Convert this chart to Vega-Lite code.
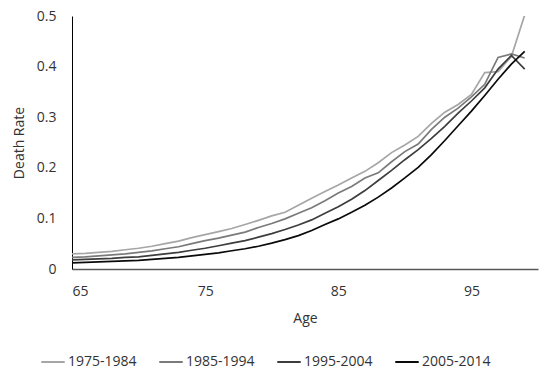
{
  "$schema": "https://vega.github.io/schema/vega-lite/v6.json",
  "width": 466,
  "height": 253,
  "autosize": {"type": "none"},
  "padding": {"left": 72, "top": 16, "right": 12, "bottom": 104},
  "background": "white",
  "config": {
    "view": {"stroke": null},
    "font": "Open Sans"
  },
  "data": {
    "values": [
      {"Age":65,"Period":"1975-1984","Rate":0.030},{"Age":66,"Period":"1975-1984","Rate":0.031},{"Age":67,"Period":"1975-1984","Rate":0.033},{"Age":68,"Period":"1975-1984","Rate":0.035},{"Age":69,"Period":"1975-1984","Rate":0.038},{"Age":70,"Period":"1975-1984","Rate":0.041},{"Age":71,"Period":"1975-1984","Rate":0.045},{"Age":72,"Period":"1975-1984","Rate":0.050},{"Age":73,"Period":"1975-1984","Rate":0.055},{"Age":74,"Period":"1975-1984","Rate":0.062},{"Age":75,"Period":"1975-1984","Rate":0.068},{"Age":76,"Period":"1975-1984","Rate":0.074},{"Age":77,"Period":"1975-1984","Rate":0.080},{"Age":78,"Period":"1975-1984","Rate":0.088},{"Age":79,"Period":"1975-1984","Rate":0.096},{"Age":80,"Period":"1975-1984","Rate":0.105},{"Age":81,"Period":"1975-1984","Rate":0.112},{"Age":82,"Period":"1975-1984","Rate":0.126},{"Age":83,"Period":"1975-1984","Rate":0.140},{"Age":84,"Period":"1975-1984","Rate":0.153},{"Age":85,"Period":"1975-1984","Rate":0.166},{"Age":86,"Period":"1975-1984","Rate":0.180},{"Age":87,"Period":"1975-1984","Rate":0.193},{"Age":88,"Period":"1975-1984","Rate":0.210},{"Age":89,"Period":"1975-1984","Rate":0.230},{"Age":90,"Period":"1975-1984","Rate":0.245},{"Age":91,"Period":"1975-1984","Rate":0.262},{"Age":92,"Period":"1975-1984","Rate":0.288},{"Age":93,"Period":"1975-1984","Rate":0.310},{"Age":94,"Period":"1975-1984","Rate":0.325},{"Age":95,"Period":"1975-1984","Rate":0.345},{"Age":96,"Period":"1975-1984","Rate":0.388},{"Age":97,"Period":"1975-1984","Rate":0.390},{"Age":98,"Period":"1975-1984","Rate":0.420},{"Age":99,"Period":"1975-1984","Rate":0.502},
      {"Age":65,"Period":"1985-1994","Rate":0.023},{"Age":66,"Period":"1985-1994","Rate":0.024},{"Age":67,"Period":"1985-1994","Rate":0.026},{"Age":68,"Period":"1985-1994","Rate":0.028},{"Age":69,"Period":"1985-1994","Rate":0.030},{"Age":70,"Period":"1985-1994","Rate":0.033},{"Age":71,"Period":"1985-1994","Rate":0.036},{"Age":72,"Period":"1985-1994","Rate":0.040},{"Age":73,"Period":"1985-1994","Rate":0.044},{"Age":74,"Period":"1985-1994","Rate":0.050},{"Age":75,"Period":"1985-1994","Rate":0.056},{"Age":76,"Period":"1985-1994","Rate":0.061},{"Age":77,"Period":"1985-1994","Rate":0.067},{"Age":78,"Period":"1985-1994","Rate":0.073},{"Age":79,"Period":"1985-1994","Rate":0.082},{"Age":80,"Period":"1985-1994","Rate":0.090},{"Age":81,"Period":"1985-1994","Rate":0.099},{"Age":82,"Period":"1985-1994","Rate":0.110},{"Age":83,"Period":"1985-1994","Rate":0.121},{"Age":84,"Period":"1985-1994","Rate":0.135},{"Age":85,"Period":"1985-1994","Rate":0.150},{"Age":86,"Period":"1985-1994","Rate":0.163},{"Age":87,"Period":"1985-1994","Rate":0.180},{"Age":88,"Period":"1985-1994","Rate":0.190},{"Age":89,"Period":"1985-1994","Rate":0.212},{"Age":90,"Period":"1985-1994","Rate":0.232},{"Age":91,"Period":"1985-1994","Rate":0.247},{"Age":92,"Period":"1985-1994","Rate":0.276},{"Age":93,"Period":"1985-1994","Rate":0.300},{"Age":94,"Period":"1985-1994","Rate":0.318},{"Age":95,"Period":"1985-1994","Rate":0.340},{"Age":96,"Period":"1985-1994","Rate":0.365},{"Age":97,"Period":"1985-1994","Rate":0.418},{"Age":98,"Period":"1985-1994","Rate":0.425},{"Age":99,"Period":"1985-1994","Rate":0.417},
      {"Age":65,"Period":"1995-2004","Rate":0.018},{"Age":66,"Period":"1995-2004","Rate":0.019},{"Age":67,"Period":"1995-2004","Rate":0.020},{"Age":68,"Period":"1995-2004","Rate":0.021},{"Age":69,"Period":"1995-2004","Rate":0.023},{"Age":70,"Period":"1995-2004","Rate":0.024},{"Age":71,"Period":"1995-2004","Rate":0.027},{"Age":72,"Period":"1995-2004","Rate":0.030},{"Age":73,"Period":"1995-2004","Rate":0.033},{"Age":74,"Period":"1995-2004","Rate":0.037},{"Age":75,"Period":"1995-2004","Rate":0.041},{"Age":76,"Period":"1995-2004","Rate":0.046},{"Age":77,"Period":"1995-2004","Rate":0.051},{"Age":78,"Period":"1995-2004","Rate":0.056},{"Age":79,"Period":"1995-2004","Rate":0.063},{"Age":80,"Period":"1995-2004","Rate":0.070},{"Age":81,"Period":"1995-2004","Rate":0.078},{"Age":82,"Period":"1995-2004","Rate":0.087},{"Age":83,"Period":"1995-2004","Rate":0.097},{"Age":84,"Period":"1995-2004","Rate":0.110},{"Age":85,"Period":"1995-2004","Rate":0.123},{"Age":86,"Period":"1995-2004","Rate":0.138},{"Age":87,"Period":"1995-2004","Rate":0.155},{"Age":88,"Period":"1995-2004","Rate":0.175},{"Age":89,"Period":"1995-2004","Rate":0.195},{"Age":90,"Period":"1995-2004","Rate":0.216},{"Age":91,"Period":"1995-2004","Rate":0.236},{"Age":92,"Period":"1995-2004","Rate":0.258},{"Age":93,"Period":"1995-2004","Rate":0.282},{"Age":94,"Period":"1995-2004","Rate":0.308},{"Age":95,"Period":"1995-2004","Rate":0.332},{"Age":96,"Period":"1995-2004","Rate":0.358},{"Age":97,"Period":"1995-2004","Rate":0.395},{"Age":98,"Period":"1995-2004","Rate":0.422},{"Age":99,"Period":"1995-2004","Rate":0.395},
      {"Age":65,"Period":"2005-2014","Rate":0.012},{"Age":66,"Period":"2005-2014","Rate":0.013},{"Age":67,"Period":"2005-2014","Rate":0.014},{"Age":68,"Period":"2005-2014","Rate":0.015},{"Age":69,"Period":"2005-2014","Rate":0.016},{"Age":70,"Period":"2005-2014","Rate":0.017},{"Age":71,"Period":"2005-2014","Rate":0.019},{"Age":72,"Period":"2005-2014","Rate":0.021},{"Age":73,"Period":"2005-2014","Rate":0.023},{"Age":74,"Period":"2005-2014","Rate":0.026},{"Age":75,"Period":"2005-2014","Rate":0.029},{"Age":76,"Period":"2005-2014","Rate":0.032},{"Age":77,"Period":"2005-2014","Rate":0.036},{"Age":78,"Period":"2005-2014","Rate":0.040},{"Age":79,"Period":"2005-2014","Rate":0.045},{"Age":80,"Period":"2005-2014","Rate":0.051},{"Age":81,"Period":"2005-2014","Rate":0.058},{"Age":82,"Period":"2005-2014","Rate":0.066},{"Age":83,"Period":"2005-2014","Rate":0.076},{"Age":84,"Period":"2005-2014","Rate":0.088},{"Age":85,"Period":"2005-2014","Rate":0.099},{"Age":86,"Period":"2005-2014","Rate":0.112},{"Age":87,"Period":"2005-2014","Rate":0.126},{"Age":88,"Period":"2005-2014","Rate":0.142},{"Age":89,"Period":"2005-2014","Rate":0.160},{"Age":90,"Period":"2005-2014","Rate":0.180},{"Age":91,"Period":"2005-2014","Rate":0.201},{"Age":92,"Period":"2005-2014","Rate":0.226},{"Age":93,"Period":"2005-2014","Rate":0.254},{"Age":94,"Period":"2005-2014","Rate":0.283},{"Age":95,"Period":"2005-2014","Rate":0.312},{"Age":96,"Period":"2005-2014","Rate":0.343},{"Age":97,"Period":"2005-2014","Rate":0.375},{"Age":98,"Period":"2005-2014","Rate":0.405},{"Age":99,"Period":"2005-2014","Rate":0.430}
    ]
  },
  "mark": {"type": "line", "strokeWidth": 1.7, "clip": true},
  "encoding": {
    "x": {
      "field": "Age",
      "type": "quantitative",
      "scale": {"domain": [65, 100], "nice": false, "zero": false},
      "axis": {
        "values": [65, 75, 85, 95],
        "title": "Age",
        "grid": false,
        "ticks": false,
        "domainColor": "#595959",
        "domainWidth": 1.5,
        "labelFont": "Open Sans",
        "labelFontSize": 14,
        "labelColor": "#333333",
        "labelPadding": 15,
        "titleFont": "Open Sans",
        "titleFontSize": 14,
        "titleFontWeight": "normal",
        "titleColor": "#333333",
        "titlePadding": 13
      }
    },
    "y": {
      "field": "Rate",
      "type": "quantitative",
      "scale": {"domain": [0, 0.5], "nice": false},
      "axis": {
        "values": [0, 0.1, 0.2, 0.3, 0.4, 0.5],
        "format": "~g",
        "title": "Death Rate",
        "grid": false,
        "ticks": false,
        "domainColor": "#000000",
        "domainWidth": 1,
        "labelFont": "Open Sans",
        "labelFontSize": 14,
        "labelColor": "#333333",
        "labelPadding": 16,
        "titleFont": "Open Sans",
        "titleFontSize": 14,
        "titleFontWeight": "normal",
        "titleColor": "#333333",
        "titlePadding": 10
      }
    },
    "color": {
      "field": "Period",
      "type": "nominal",
      "scale": {
        "domain": ["1975-1984", "1985-1994", "1995-2004", "2005-2014"],
        "range": ["#a6a6a6", "#7a7a7a", "#3d3d3d", "#0a0a0a"]
      },
      "legend": {
        "title": null,
        "orient": "none",
        "direction": "horizontal",
        "legendX": -32,
        "legendY": 333,
        "symbolType": "stroke",
        "symbolSize": 550,
        "symbolStrokeWidth": 2,
        "labelFont": "Open Sans",
        "labelFontSize": 14,
        "labelColor": "#333333",
        "labelOffset": 2,
        "columnPadding": 18
      }
    }
  }
}
